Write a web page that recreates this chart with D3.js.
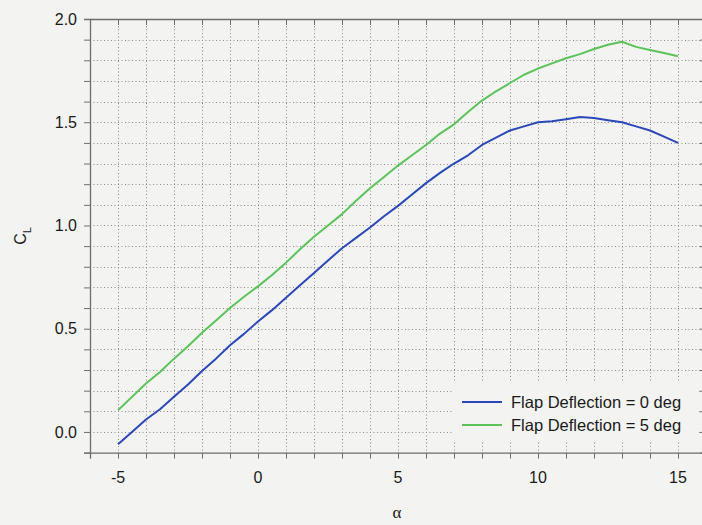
<!DOCTYPE html>
<html>
<head>
<meta charset="utf-8">
<script src="https://cdn.jsdelivr.net/npm/d3@7"></script>
<style>
  html, body { margin: 0; padding: 0; background: #f3f3f1; }
  svg { display: block; font-family: "Liberation Sans", Arial, sans-serif; }
</style>
</head>
<body>
<svg id="chart" width="702" height="525"></svg>
<script>
// Angle of attack (deg)
const alpha = [-5, -4.5, -4, -3.5, -3, -2.5, -2, -1.5, -1, -0.5, 0, 0.5, 1, 1.5, 2, 2.5, 3, 3.5, 4, 4.5,
  5, 5.5, 6, 6.5, 7, 7.5, 8, 8.5, 9, 9.5, 10, 10.5, 11, 11.5, 12, 12.5, 13, 13.5, 14, 14.5, 15];

// Lift coefficient, flap deflection 0 deg
const clFlap0 = [-0.06, 0.00, 0.06, 0.11, 0.17, 0.23, 0.295, 0.355, 0.42, 0.475, 0.535, 0.59, 0.65, 0.71,
  0.77, 0.83, 0.89, 0.94, 0.99, 1.045, 1.095, 1.15, 1.205, 1.255, 1.30, 1.34, 1.39, 1.425, 1.46, 1.48,
  1.50, 1.505, 1.515, 1.525, 1.52, 1.51, 1.50, 1.48, 1.46, 1.43, 1.40];

// Lift coefficient, flap deflection 5 deg
const clFlap5 = [0.105, 0.17, 0.235, 0.29, 0.355, 0.415, 0.48, 0.54, 0.60, 0.655, 0.705, 0.76, 0.82, 0.885,
  0.945, 1.0, 1.055, 1.12, 1.18, 1.235, 1.29, 1.34, 1.39, 1.445, 1.49, 1.55, 1.605, 1.65, 1.69, 1.73,
  1.76, 1.785, 1.81, 1.83, 1.855, 1.875, 1.89, 1.865, 1.85, 1.835, 1.82];

const xTickLabels = [-5, 0, 5, 10, 15];
const yTickLabels = [0.0, 0.5, 1.0, 1.5, 2.0];
const seriesNames = ["Flap Deflection = 0 deg", "Flap Deflection = 5 deg"];
const seriesColors = ["#2b48b8", "#5cc35a"];

const svg = d3.select("#chart");
const x = d3.scaleLinear().domain([-6, 16]).range([90, 706]);
const y = d3.scaleLinear().domain([-0.1, 2.0]).range([452.6, 19]);

const gridX = d3.range(-5, 16, 1);
const gridY = d3.range(0, 21, 1).map(i => +(i * 0.1).toFixed(1));

// dotted grid
const grid = svg.append("g").attr("stroke", "#8a8a8a").attr("stroke-width", 1)
  .attr("stroke-dasharray", "1,2.5");
grid.selectAll("line.gx").data(gridX).join("line")
  .attr("x1", d => Math.round(x(d)) + 0.5).attr("x2", d => Math.round(x(d)) + 0.5)
  .attr("y1", y(2.0)).attr("y2", y(-0.1));
grid.selectAll("line.gy").data(gridY.filter(v => v < 2.0)).join("line")
  .attr("x1", x(-6)).attr("x2", 702)
  .attr("y1", d => Math.round(y(d)) + 0.5).attr("y2", d => Math.round(y(d)) + 0.5);

// axes
const axisColor = "#6e6e6e";
const yTicksAll = d3.range(-1, 21, 1).map(i => +(i * 0.1).toFixed(1));
const xTicksAll = d3.range(-6, 17, 1);

const leftAxis = svg.append("g").attr("transform", `translate(${x(-6)},0)`)
  .call(d3.axisLeft(y).tickValues(yTicksAll).tickSize(6).tickFormat(""));
const bottomAxis = svg.append("g").attr("transform", `translate(0,${y(-0.1)})`)
  .call(d3.axisBottom(x).tickValues(xTicksAll).tickSize(6).tickFormat(""));
const topAxis = svg.append("g").attr("transform", `translate(0,${y(2.0)})`)
  .call(d3.axisBottom(x).tickValues(xTicksAll).tickSize(6).tickSizeOuter(0).tickFormat(""));
const rightAxis = svg.append("g").attr("transform", `translate(${x(16)},0)`)
  .call(d3.axisLeft(y).tickValues(yTicksAll).tickSize(6).tickSizeOuter(0).tickFormat(""));
[leftAxis, bottomAxis, topAxis, rightAxis].forEach(g => {
  g.selectAll("path").attr("stroke", axisColor).attr("stroke-width", 1.3);
  g.selectAll("line").attr("stroke", axisColor).attr("stroke-width", 1);
});

// tick labels
svg.append("g").selectAll("text").data(yTickLabels).join("text")
  .attr("x", 77).attr("y", d => y(d)).attr("dy", "0.36em")
  .attr("text-anchor", "end").attr("font-size", 16).attr("fill", "#1a1a1a")
  .text(d => d.toFixed(1));
svg.append("g").selectAll("text").data(xTickLabels).join("text")
  .attr("x", d => x(d)).attr("y", 477).attr("dy", "0.36em")
  .attr("text-anchor", "middle").attr("font-size", 16).attr("fill", "#1a1a1a")
  .text(d => d);

// axis titles
svg.append("text").attr("x", 397).attr("y", 513).attr("dy", "0.3em")
  .attr("text-anchor", "middle").attr("font-size", 17)
  .attr("font-family", "'Liberation Serif', 'DejaVu Serif', serif").attr("fill", "#1a1a1a")
  .text("α");
const yTitle = svg.append("text").attr("transform", "translate(26,236) rotate(-90)")
  .attr("text-anchor", "middle").attr("font-size", 16).attr("fill", "#1a1a1a");
yTitle.append("tspan").text("C");
yTitle.append("tspan").attr("font-size", 11).attr("dy", 5).text("L");

// curves
const line = d3.line().x(d => x(d[0])).y(d => y(d[1])).curve(d3.curveLinear);
[clFlap0, clFlap5].forEach((vals, i) => {
  svg.append("path").datum(alpha.map((a, k) => [a, vals[k]]))
    .attr("fill", "none").attr("stroke", seriesColors[i]).attr("stroke-width", 2)
    .attr("stroke-linejoin", "round").attr("d", line);
});

// legend
const legend = svg.append("g");
legend.append("rect").attr("x", 452).attr("y", 382).attr("width", 246).attr("height", 60)
  .attr("fill", "#f3f3f1");
seriesNames.forEach((name, i) => {
  const ly = 402 + i * 23;
  legend.append("line").attr("x1", 462).attr("x2", 502).attr("y1", ly).attr("y2", ly)
    .attr("stroke", seriesColors[i]).attr("stroke-width", 2);
  legend.append("text").attr("x", 511).attr("y", ly).attr("dy", "0.36em")
    .attr("font-size", 16.5).attr("fill", "#1a1a1a").text(name);
});
</script>
</body>
</html>
